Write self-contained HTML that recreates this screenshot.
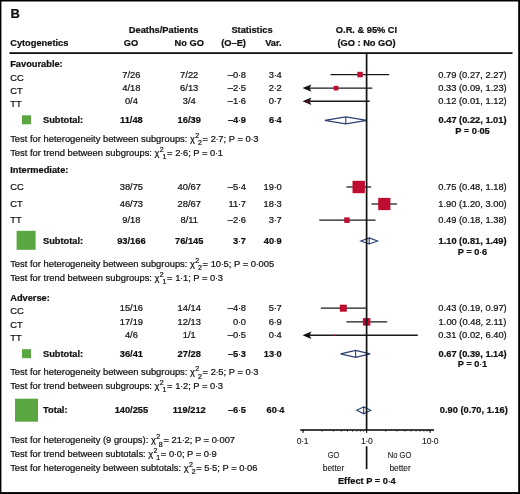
<!DOCTYPE html>
<html><head><meta charset="utf-8"><title>Forest plot B</title>
<style>
html,body{margin:0;padding:0;background:#fff}
body{width:520px;height:494px;overflow:hidden}
svg{display:block}
text{font-family:"Liberation Sans",sans-serif;font-size:9.33px;fill:#111;stroke:#111;stroke-width:.22px}
.b{font-weight:bold;fill:#111;font-size:9.27px}
.t{font-size:9.39px}
.d{font-weight:normal;stroke-width:.1px}
.ax{fill:#1a1a1a;stroke:#1a1a1a;stroke-width:.12px}
.ci{stroke:#1a1a1a;stroke-width:1.25}
.ca{stroke:#1a1a1a;stroke-width:1.4}
.dm{fill:#fff;stroke:#2a4070;stroke-width:1.1;stroke-linejoin:miter}
</style></head><body>
<svg width="520" height="494" viewBox="0 0 520 494">
<rect x="0" y="0" width="520" height="494" fill="#fff"/>
<text x="10.4" y="18.3" class="b" style="font-size:13px">B</text>
<text x="163.6" y="32.6" text-anchor="middle" class="b">Deaths/Patients</text>
<text x="252" y="32.6" text-anchor="middle" class="b">Statistics</text>
<text x="366.5" y="32.6" text-anchor="middle" class="b">O.R. &amp; 95% CI</text>
<text x="10.2" y="46.2" class="b">Cytogenetics</text>
<text x="130.9" y="46.2" text-anchor="middle" class="b">GO</text>
<text x="189.2" y="46.2" text-anchor="middle" class="b">No GO</text>
<text x="233.6" y="46.2" text-anchor="middle" class="b">(O–E)</text>
<text x="281.7" y="46.2" text-anchor="end" class="b">Var.</text>
<text x="366.5" y="46.2" text-anchor="middle" class="b">(GO : No GO)</text>
<rect x="9.5" y="52.2" width="503" height="1.8" fill="#111"/>
<text x="10.2" y="67.3" class="b">Favourable:</text>
<text x="10.2" y="80.8">CC</text>
<text x="131.4" y="77.8" text-anchor="middle">7/26</text>
<text x="189.2" y="77.8" text-anchor="middle">7/22</text>
<text x="245.9" y="77.8" text-anchor="end">–0<tspan class="d" dx="-.3">·</tspan><tspan dx="-.3">8</tspan></text>
<text x="281.7" y="77.8" text-anchor="end">3<tspan class="d" dx="-.3">·</tspan><tspan dx="-.3">4</tspan></text>
<text x="472.5" y="77.8" text-anchor="middle">0.79 (0.27, 2.27)</text>
<line x1="330.5" y1="74.5" x2="389.2" y2="74.5" class="ci"/>
<rect x="357.3" y="71.8" width="5.5" height="5.5" fill="#bf0d32"/>
<text x="10.2" y="93.9">CT</text>
<text x="131.4" y="91.1" text-anchor="middle">4/18</text>
<text x="189.2" y="91.1" text-anchor="middle">6/13</text>
<text x="245.9" y="91.1" text-anchor="end">–2<tspan class="d" dx="-.3">·</tspan><tspan dx="-.3">5</tspan></text>
<text x="281.7" y="91.1" text-anchor="end">2<tspan class="d" dx="-.3">·</tspan><tspan dx="-.3">2</tspan></text>
<text x="472.5" y="91.1" text-anchor="middle">0.33 (0.09, 1.23)</text>
<line x1="307.2" y1="88.1" x2="372.3" y2="88.1" class="ca"/>
<path d="M302.5 88.1 l8.9 -3.7 l-1.8 3.7 l1.8 3.7z" fill="#111"/>
<rect x="333.7" y="85.8" width="4.7" height="4.7" fill="#bf0d32"/>
<text x="10.2" y="107.4">TT</text>
<text x="131.4" y="104.4" text-anchor="middle">0/4</text>
<text x="189.2" y="104.4" text-anchor="middle">3/4</text>
<text x="245.9" y="104.4" text-anchor="end">–1<tspan class="d" dx="-.3">·</tspan><tspan dx="-.3">6</tspan></text>
<text x="281.7" y="104.4" text-anchor="end">0<tspan class="d" dx="-.3">·</tspan><tspan dx="-.3">7</tspan></text>
<text x="472.5" y="104.4" text-anchor="middle">0.12 (0.01, 1.12)</text>
<line x1="307.2" y1="101.3" x2="369.7" y2="101.3" class="ca"/>
<path d="M302.5 101.3 l8.9 -3.7 l-1.8 3.7 l1.8 3.7z" fill="#111"/>
<rect x="306.6" y="99.8" width="3" height="3" fill="#5c0b22"/>
<rect x="22.0" y="115.3" width="9" height="9" fill="#5aa741"/>
<text x="43" y="123.1" class="b">Subtotal:</text>
<text x="131.4" y="123.1" text-anchor="middle" class="b">11/48</text>
<text x="189.2" y="123.1" text-anchor="middle" class="b">16/39</text>
<text x="245.9" y="123.1" text-anchor="end" class="b">–4<tspan class="d" dx="-.3">·</tspan><tspan dx="-.3">9</tspan></text>
<text x="281.7" y="123.1" text-anchor="end" class="b">6<tspan class="d" dx="-.3">·</tspan><tspan dx="-.3">4</tspan></text>
<text x="472.5" y="123.1" text-anchor="middle" class="b">0.47 (0.22, 1.01)</text>
<text x="472.5" y="134.3" text-anchor="middle" class="b">P = 0<tspan class="d" dx="-.3">·</tspan><tspan dx="-.3">0</tspan>5</text>
<path d="M324.8 120.4 L345.8 116.9 L366.9 120.4 L345.8 123.9Z M345.8 116.9 V123.9" class="dm"/>
<text x="10.2" y="141.8" class="t">Test for heterogeneity between subgroups: χ<tspan font-size="7" dy="-4.1" dx="0.35">2</tspan><tspan font-size="7" dy="7.6" dx="-1.25">2</tspan><tspan dy="-3.5" dx="0.7">= 2<tspan class="d" dx="-.3">·</tspan><tspan dx="-.3">7</tspan>; P = 0<tspan class="d" dx="-.3">·</tspan><tspan dx="-.3">3</tspan></tspan></text>
<text x="10.2" y="155.6" class="t">Test for trend between subgroups: χ<tspan font-size="7" dy="-4.1" dx="0.35">2</tspan><tspan font-size="7" dy="7.6" dx="-1.25">1</tspan><tspan dy="-3.5" dx="0.7">= 2<tspan class="d" dx="-.3">·</tspan><tspan dx="-.3">6</tspan>; P = 0<tspan class="d" dx="-.3">·</tspan><tspan dx="-.3">1</tspan></tspan></text>
<text x="10.2" y="173.3" class="b">Intermediate:</text>
<text x="10.2" y="189.8">CC</text>
<text x="131.4" y="189.8" text-anchor="middle">38/75</text>
<text x="189.2" y="189.8" text-anchor="middle">40/67</text>
<text x="245.9" y="189.8" text-anchor="end">–5<tspan class="d" dx="-.3">·</tspan><tspan dx="-.3">4</tspan></text>
<text x="281.7" y="189.8" text-anchor="end">19<tspan class="d" dx="-.3">·</tspan><tspan dx="-.3">0</tspan></text>
<text x="472.5" y="189.8" text-anchor="middle">0.75 (0.48, 1.18)</text>
<line x1="346.4" y1="187.0" x2="371.2" y2="187.0" class="ci"/>
<rect x="352.5" y="180.8" width="12.4" height="12.4" fill="#bf0d32"/>
<text x="10.2" y="206.8">CT</text>
<text x="131.4" y="206.8" text-anchor="middle">46/73</text>
<text x="189.2" y="206.8" text-anchor="middle">28/67</text>
<text x="245.9" y="206.8" text-anchor="end">11<tspan class="d" dx="-.3">·</tspan><tspan dx="-.3">7</tspan></text>
<text x="281.7" y="206.8" text-anchor="end">18<tspan class="d" dx="-.3">·</tspan><tspan dx="-.3">3</tspan></text>
<text x="472.5" y="206.8" text-anchor="middle">1.90 (1.20, 3.00)</text>
<line x1="371.6" y1="204.0" x2="396.9" y2="204.0" class="ci"/>
<rect x="378.2" y="197.9" width="12.2" height="12.2" fill="#bf0d32"/>
<text x="10.2" y="223">TT</text>
<text x="131.4" y="223" text-anchor="middle">9/18</text>
<text x="189.2" y="223" text-anchor="middle">8/11</text>
<text x="245.9" y="223" text-anchor="end">–2<tspan class="d" dx="-.3">·</tspan><tspan dx="-.3">6</tspan></text>
<text x="281.7" y="223" text-anchor="end">3<tspan class="d" dx="-.3">·</tspan><tspan dx="-.3">7</tspan></text>
<text x="472.5" y="223" text-anchor="middle">0.49 (0.18, 1.38)</text>
<line x1="319.3" y1="220.2" x2="375.5" y2="220.2" class="ci"/>
<rect x="344.2" y="217.4" width="5.5" height="5.5" fill="#bf0d32"/>
<rect x="16.6" y="230.8" width="19" height="19" fill="#5aa741"/>
<text x="43" y="243.6" class="b">Subtotal:</text>
<text x="131.4" y="243.6" text-anchor="middle" class="b">93/166</text>
<text x="189.2" y="243.6" text-anchor="middle" class="b">76/145</text>
<text x="245.9" y="243.6" text-anchor="end" class="b">3<tspan class="d" dx="-.3">·</tspan><tspan dx="-.3">7</tspan></text>
<text x="281.7" y="243.6" text-anchor="end" class="b">40<tspan class="d" dx="-.3">·</tspan><tspan dx="-.3">9</tspan></text>
<text x="472.5" y="243.6" text-anchor="middle" class="b">1.10 (0.81, 1.49)</text>
<text x="472.5" y="254.5" text-anchor="middle" class="b">P = 0<tspan class="d" dx="-.3">·</tspan><tspan dx="-.3">6</tspan></text>
<path d="M360.8 240.9 L369.2 237.9 L377.6 240.9 L369.2 243.9Z M369.2 237.9 V243.9" class="dm"/>
<text x="10.2" y="266.8" class="t">Test for heterogeneity between subgroups: χ<tspan font-size="7" dy="-4.1" dx="0.35">2</tspan><tspan font-size="7" dy="7.6" dx="-1.25">2</tspan><tspan dy="-3.5" dx="0.7">= 10<tspan class="d" dx="-.3">·</tspan><tspan dx="-.3">5</tspan>; P = 0<tspan class="d" dx="-.3">·</tspan><tspan dx="-.3">0</tspan>05</tspan></text>
<text x="10.2" y="280.8" class="t">Test for trend between subgroups: χ<tspan font-size="7" dy="-4.1" dx="0.35">2</tspan><tspan font-size="7" dy="7.6" dx="-1.25">1</tspan><tspan dy="-3.5" dx="0.7">= 1<tspan class="d" dx="-.3">·</tspan><tspan dx="-.3">1</tspan>; P = 0<tspan class="d" dx="-.3">·</tspan><tspan dx="-.3">3</tspan></tspan></text>
<text x="10.2" y="300.5" class="b">Adverse:</text>
<text x="10.2" y="313.8">CC</text>
<text x="131.4" y="311.3" text-anchor="middle">15/16</text>
<text x="189.2" y="311.3" text-anchor="middle">14/14</text>
<text x="245.9" y="311.3" text-anchor="end">–4<tspan class="d" dx="-.3">·</tspan><tspan dx="-.3">8</tspan></text>
<text x="281.7" y="311.3" text-anchor="end">5<tspan class="d" dx="-.3">·</tspan><tspan dx="-.3">7</tspan></text>
<text x="472.5" y="311.3" text-anchor="middle">0.43 (0.19, 0.97)</text>
<line x1="320.8" y1="308.2" x2="365.8" y2="308.2" class="ci"/>
<rect x="339.8" y="304.7" width="7" height="7" fill="#bf0d32"/>
<text x="10.2" y="327.5">CT</text>
<text x="131.4" y="324.7" text-anchor="middle">17/19</text>
<text x="189.2" y="324.7" text-anchor="middle">12/13</text>
<text x="245.9" y="324.7" text-anchor="end">0<tspan class="d" dx="-.3">·</tspan><tspan dx="-.3">0</tspan></text>
<text x="281.7" y="324.7" text-anchor="end">6<tspan class="d" dx="-.3">·</tspan><tspan dx="-.3">9</tspan></text>
<text x="472.5" y="324.7" text-anchor="middle">1.00 (0.48, 2.11)</text>
<line x1="346.4" y1="321.9" x2="387.2" y2="321.9" class="ci"/>
<rect x="362.9" y="318.1" width="7.5" height="7.5" fill="#bf0d32"/>
<text x="10.2" y="340.9">TT</text>
<text x="131.4" y="338" text-anchor="middle">4/6</text>
<text x="189.2" y="338" text-anchor="middle">1/1</text>
<text x="245.9" y="338" text-anchor="end">–0<tspan class="d" dx="-.3">·</tspan><tspan dx="-.3">5</tspan></text>
<text x="281.7" y="338" text-anchor="end">0<tspan class="d" dx="-.3">·</tspan><tspan dx="-.3">4</tspan></text>
<text x="472.5" y="338" text-anchor="middle">0.31 (0.02, 6.40)</text>
<line x1="307.2" y1="335.2" x2="417.8" y2="335.2" class="ca"/>
<path d="M302.5 335.2 l8.9 -3.7 l-1.8 3.7 l1.8 3.7z" fill="#111"/>
<rect x="333.7" y="334.6" width="1.2" height="1.2" fill="#bf0d32"/>
<rect x="22.0" y="349.2" width="9" height="9" fill="#5aa741"/>
<text x="43" y="356.6" class="b">Subtotal:</text>
<text x="131.4" y="356.6" text-anchor="middle" class="b">36/41</text>
<text x="189.2" y="356.6" text-anchor="middle" class="b">27/28</text>
<text x="245.9" y="356.6" text-anchor="end" class="b">–5<tspan class="d" dx="-.3">·</tspan><tspan dx="-.3">3</tspan></text>
<text x="281.7" y="356.6" text-anchor="end" class="b">13<tspan class="d" dx="-.3">·</tspan><tspan dx="-.3">0</tspan></text>
<text x="472.5" y="356.6" text-anchor="middle" class="b">0.67 (0.39, 1.14)</text>
<text x="472.5" y="367.4" text-anchor="middle" class="b">P = 0<tspan class="d" dx="-.3">·</tspan><tspan dx="-.3">1</tspan></text>
<path d="M340.6 353.9 L355.6 350.4 L370.2 353.9 L355.6 357.4Z M355.6 350.4 V357.4" class="dm"/>
<text x="10.2" y="375.1" class="t">Test for heterogeneity between subgroups: χ<tspan font-size="7" dy="-4.1" dx="0.35">2</tspan><tspan font-size="7" dy="7.6" dx="-1.25">2</tspan><tspan dy="-3.5" dx="0.7">= 2<tspan class="d" dx="-.3">·</tspan><tspan dx="-.3">5</tspan>; P = 0<tspan class="d" dx="-.3">·</tspan><tspan dx="-.3">3</tspan></tspan></text>
<text x="10.2" y="388.7" class="t">Test for trend between subgroups: χ<tspan font-size="7" dy="-4.1" dx="0.35">2</tspan><tspan font-size="7" dy="7.6" dx="-1.25">1</tspan><tspan dy="-3.5" dx="0.7">= 1<tspan class="d" dx="-.3">·</tspan><tspan dx="-.3">2</tspan>; P = 0<tspan class="d" dx="-.3">·</tspan><tspan dx="-.3">3</tspan></tspan></text>
<rect x="15.0" y="398.7" width="23" height="23" fill="#5aa741"/>
<text x="43" y="413" class="b">Total:</text>
<text x="131.4" y="413" text-anchor="middle" class="b">140/255</text>
<text x="189.2" y="413" text-anchor="middle" class="b">119/212</text>
<text x="245.9" y="413" text-anchor="end" class="b">–6<tspan class="d" dx="-.3">·</tspan><tspan dx="-.3">5</tspan></text>
<text x="284.5" y="413" text-anchor="end" class="b">60<tspan class="d" dx="-.3">·</tspan><tspan dx="-.3">4</tspan></text>
<text x="473.8" y="413" text-anchor="middle" class="b">0.90 (0.70, 1.16)</text>
<path d="M356.8 410.3 L363.7 406.8 L370.7 410.3 L363.7 413.8Z M363.7 406.8 V413.8" class="dm"/>
<text x="10.2" y="443.0" class="t">Test for heterogeneity (9 groups): χ<tspan font-size="7" dy="-4.1" dx="0.35">2</tspan><tspan font-size="7" dy="7.6" dx="-1.25">8</tspan><tspan dy="-3.5" dx="0.7">= 21<tspan class="d" dx="-.3">·</tspan><tspan dx="-.3">2</tspan>; P = 0<tspan class="d" dx="-.3">·</tspan><tspan dx="-.3">0</tspan>07</tspan></text>
<text x="10.2" y="456.9" class="t">Test for trend between subtotals: χ<tspan font-size="7" dy="-4.1" dx="0.35">2</tspan><tspan font-size="7" dy="7.6" dx="-1.25">1</tspan><tspan dy="-3.5" dx="0.7">= 0<tspan class="d" dx="-.3">·</tspan><tspan dx="-.3">0</tspan>; P = 0<tspan class="d" dx="-.3">·</tspan><tspan dx="-.3">9</tspan></tspan></text>
<text x="10.2" y="470.8" class="t">Test for heterogeneity between subtotals: χ<tspan font-size="7" dy="-4.1" dx="0.35">2</tspan><tspan font-size="7" dy="7.6" dx="-1.25">2</tspan><tspan dy="-3.5" dx="0.7">= 5<tspan class="d" dx="-.3">·</tspan><tspan dx="-.3">5</tspan>; P = 0<tspan class="d" dx="-.3">·</tspan><tspan dx="-.3">0</tspan>6</tspan></text>
<rect x="365.75" y="53" width="1.7" height="377.0" fill="#111"/>
<rect x="365.75" y="446.3" width="1.7" height="22.8" fill="#111"/>
<rect x="300.2" y="429.2" width="133.8" height="1.6" fill="#111"/>
<rect x="302.5" y="430.0" width="1.2" height="2.8" fill="#111"/>
<rect x="366.0" y="430.0" width="1.2" height="2.8" fill="#111"/>
<rect x="429.5" y="430.0" width="1.2" height="2.8" fill="#111"/>
<path d="M322.2 430.0v1.7M333.4 430.0v1.7M341.3 430.0v1.7M347.5 430.0v1.7M352.5 430.0v1.7M356.8 430.0v1.7M360.4 430.0v1.7M363.7 430.0v1.7M385.7 430.0v1.7M396.9 430.0v1.7M404.8 430.0v1.7M411.0 430.0v1.7M416.0 430.0v1.7M420.3 430.0v1.7M423.9 430.0v1.7M427.2 430.0v1.7" stroke="#222" stroke-width="0.8" fill="none"/>
<text transform="translate(302.6 443.8) scale(1.0 1)" text-anchor="middle" class="ax" style="font-size:8.6px">0<tspan class="d" dx="-.3">·</tspan><tspan dx="-.3">1</tspan></text>
<text transform="translate(366.9 443.8) scale(1.0 1)" text-anchor="middle" class="ax" style="font-size:8.6px">1<tspan class="d" dx="-.3">·</tspan><tspan dx="-.3">0</tspan></text>
<text transform="translate(430.2 443.8) scale(1.0 1)" text-anchor="middle" class="ax" style="font-size:8.6px">10<tspan class="d" dx="-.3">·</tspan><tspan dx="-.3">0</tspan></text>
<text transform="translate(333.6 458.4) scale(0.82 1)" text-anchor="middle" class="ax" style="font-size:9.1px">GO</text>
<text transform="translate(333.5 471) scale(0.92 1)" text-anchor="middle" class="ax" style="font-size:9.1px">better</text>
<text transform="translate(399.6 458.4) scale(0.84 1)" text-anchor="middle" class="ax" style="font-size:9.1px">No GO</text>
<text transform="translate(400.1 471) scale(0.92 1)" text-anchor="middle" class="ax" style="font-size:9.1px">better</text>
<text x="366.8" y="484.3" text-anchor="middle" class="b">Effect P = 0<tspan class="d" dx="-.3">·</tspan><tspan dx="-.3">4</tspan></text>
<rect x="0" y="0" width="520" height="1.5" fill="#000"/>
<rect x="0" y="0" width="1.4" height="494" fill="#000"/>
<rect x="518.2" y="0" width="1.8" height="494" fill="#000"/>
<rect x="0" y="492.1" width="520" height="1.9" fill="#000"/>
</svg>
</body></html>
